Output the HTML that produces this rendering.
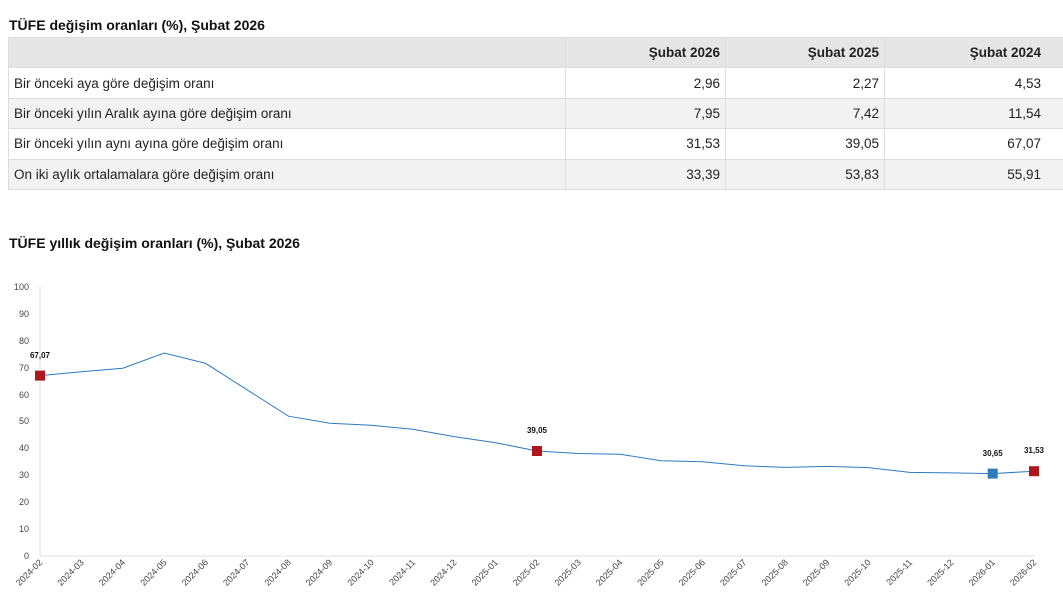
<!DOCTYPE html>
<html><head><meta charset="utf-8"><style>
body{margin:0;background:#fff;font-family:"Liberation Sans",sans-serif;width:1063px;height:610px;overflow:hidden;position:relative}
h2{position:absolute;left:9px;margin:0;font-size:14px;font-weight:bold;color:#111}
table{position:absolute;left:8px;top:37px;width:1064px;table-layout:fixed;border-collapse:collapse;font-size:13.5px;color:#222}
tr{height:30.4px}
td,th{border:1px solid #ddd;padding:0 5px;box-sizing:border-box}
th{background:#e6e6e6;text-align:right;font-weight:bold}
td{text-align:right}
td:first-child{text-align:left}
th.l,td.l{padding-right:31px}
tr.g td{background:#f2f2f2}
</style></head><body>
<h2 style="top:17px">TÜFE değişim oranları (%), Şubat 2026</h2>
<table>
<colgroup><col style="width:557px"><col style="width:160px"><col style="width:159px"><col style="width:188px"></colgroup>
<tr><th></th><th>Şubat 2026</th><th>Şubat 2025</th><th class="l">Şubat 2024</th></tr>
<tr><td>Bir önceki aya göre değişim oranı</td><td>2,96</td><td>2,27</td><td class="l">4,53</td></tr>
<tr class="g"><td>Bir önceki yılın Aralık ayına göre değişim oranı</td><td>7,95</td><td>7,42</td><td class="l">11,54</td></tr>
<tr><td>Bir önceki yılın aynı ayına göre değişim oranı</td><td>31,53</td><td>39,05</td><td class="l">67,07</td></tr>
<tr class="g"><td>On iki aylık ortalamalara göre değişim oranı</td><td>33,39</td><td>53,83</td><td class="l">55,91</td></tr>
</table>
<h2 style="top:235px">TÜFE yıllık değişim oranları (%), Şubat 2026</h2>
<svg width="1063" height="610" style="position:absolute;left:0;top:0" font-family="Liberation Sans, sans-serif">
<g font-size="9" fill="#444" text-anchor="end">
<text x="29" y="559">0</text><text x="29" y="532">10</text><text x="29" y="505">20</text><text x="29" y="478">30</text><text x="29" y="451">40</text><text x="29" y="424">50</text><text x="29" y="398">60</text><text x="29" y="371">70</text><text x="29" y="344">80</text><text x="29" y="317">90</text><text x="29" y="290">100</text>
</g>
<line x1="40" y1="286" x2="40" y2="556" stroke="#e0e0e0"/>
<line x1="40" y1="556" x2="1035" y2="556" stroke="#e0e0e0"/>
<polyline fill="none" stroke="#2f7bbd" stroke-width="1" points="40,375.6 81.4,371.7 122.8,368.2 164.3,353 205.7,363.4 247.1,389.8 288.5,416.2 329.9,423.2 371.4,425.3 412.8,429.3 454.2,436.6 495.6,442.7 537,451 578.5,453.5 619.9,454.2 661.3,460.7 702.7,461.7 744.1,465.8 785.6,467.4 827,466.4 868.4,467.6 909.8,472.4 951.2,472.9 992.7,473.6 1034,471.2"/>
<rect x="35" y="370.6" width="10" height="10" fill="#b0161f"/>
<rect x="532" y="446" width="10" height="10" fill="#b0161f"/>
<rect x="987.7" y="468.6" width="10" height="10" fill="#2f7bbd"/>
<rect x="1029" y="466.2" width="10" height="10" fill="#b0161f"/>
<g font-size="8" font-weight="bold" fill="#111" text-anchor="middle">
<text x="40" y="358">67,07</text><text x="537" y="433">39,05</text><text x="992.7" y="456">30,65</text><text x="1034" y="453">31,53</text>
</g>
<g font-size="9" fill="#444" text-anchor="end">
<text transform="translate(43,563) rotate(-45)">2024-02</text>
<text transform="translate(84.4,563) rotate(-45)">2024-03</text>
<text transform="translate(125.8,563) rotate(-45)">2024-04</text>
<text transform="translate(167.3,563) rotate(-45)">2024-05</text>
<text transform="translate(208.7,563) rotate(-45)">2024-06</text>
<text transform="translate(250.1,563) rotate(-45)">2024-07</text>
<text transform="translate(291.5,563) rotate(-45)">2024-08</text>
<text transform="translate(332.9,563) rotate(-45)">2024-09</text>
<text transform="translate(374.4,563) rotate(-45)">2024-10</text>
<text transform="translate(415.8,563) rotate(-45)">2024-11</text>
<text transform="translate(457.2,563) rotate(-45)">2024-12</text>
<text transform="translate(498.6,563) rotate(-45)">2025-01</text>
<text transform="translate(540,563) rotate(-45)">2025-02</text>
<text transform="translate(581.5,563) rotate(-45)">2025-03</text>
<text transform="translate(622.9,563) rotate(-45)">2025-04</text>
<text transform="translate(664.3,563) rotate(-45)">2025-05</text>
<text transform="translate(705.7,563) rotate(-45)">2025-06</text>
<text transform="translate(747.1,563) rotate(-45)">2025-07</text>
<text transform="translate(788.6,563) rotate(-45)">2025-08</text>
<text transform="translate(830,563) rotate(-45)">2025-09</text>
<text transform="translate(871.4,563) rotate(-45)">2025-10</text>
<text transform="translate(912.8,563) rotate(-45)">2025-11</text>
<text transform="translate(954.2,563) rotate(-45)">2025-12</text>
<text transform="translate(995.7,563) rotate(-45)">2026-01</text>
<text transform="translate(1037,563) rotate(-45)">2026-02</text>
</g>
</svg>
</body></html>
